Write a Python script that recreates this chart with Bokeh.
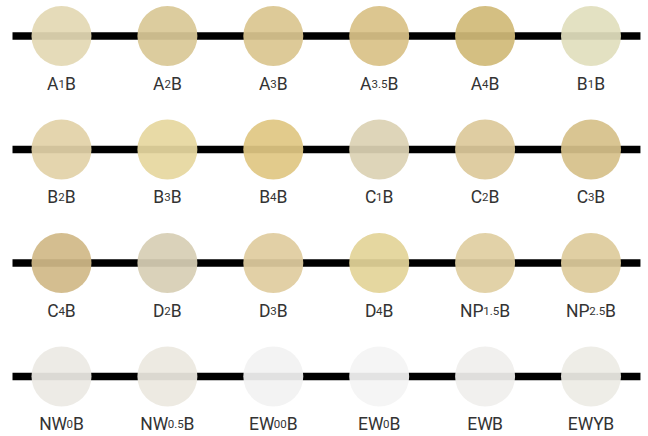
from bokeh.plotting import figure
from bokeh.models import Range1d, ColumnDataSource
from bokeh.core.properties import value
from bokeh.embed import file_html
from bokeh.resources import INLINE

# ---- data ----
rows = [0, 0, 0, 0, 0, 0, 1, 1, 1, 1, 1, 1, 2, 2, 2, 2, 2, 2, 3, 3, 3, 3, 3, 3]
cols = [0, 1, 2, 3, 4, 5] * 4
prefix = ["A", "A", "A", "A", "A", "B",
          "B", "B", "B", "C", "C", "C",
          "C", "D", "D", "D", "NP", "NP",
          "NW", "NW", "EW", "EW", "EW", "EWY"]
subs = ["1", "2", "3", "3.5", "4", "1",
        "2", "3", "4", "1", "2", "3",
        "4", "2", "3", "4", "1.5", "2.5",
        "0", "0.5", "00", "0", "", ""]
suffix = ["B"] * 24
# observed shade colours (as seen over white)
shades = ["#E5DBB9", "#DCCC9E", "#DDCA98", "#DCC690", "#D4BF82", "#E3E1C2",
          "#E4D5AE", "#E8DAA6", "#E2CB8C", "#DED5B9", "#DFCDA2", "#D9C592",
          "#D4BE90", "#DAD2BA", "#E2D0A6", "#E5D7A0", "#E2D2A8", "#E0CFA3",
          "#EDEBE6", "#EDEAE2", "#F3F3F3", "#F5F5F5", "#F1F0EE", "#EEEDE7"]

ALPHA = 0.93


def raw(hexc):
    v = [int(hexc[i:i + 2], 16) for i in (1, 3, 5)]
    r = [max(0, min(255, round((c - (1 - ALPHA) * 255) / ALPHA))) for c in v]
    return "#%02x%02x%02x" % tuple(r)


fills = [raw(c) for c in shades]

FONT = "Roboto"
MAIN = 17.5
SUB = 11.5
W = {"A": 0.652, "B": 0.623, "C": 0.636, "D": 0.641, "E": 0.556, "N": 0.697,
     "P": 0.630, "W": 0.866, "Y": 0.600, ".": 0.257}


def width(s, size):
    return sum(W.get(ch, 0.562) for ch in s) * size


pre_off, sub_off, suf_off = [], [], []
for a, b, c in zip(prefix, subs, suffix):
    wa, wb, wc = width(a, MAIN), width(b, SUB), width(c, MAIN)
    tot = wa + wb + wc
    start = -tot / 2
    pre_off.append(start)
    sub_off.append(start + wa)
    suf_off.append(start + wa + wb)

ys = [-r for r in rows]
src = ColumnDataSource(dict(x=cols, y=ys, fill=fills, pre=prefix, sub=subs, suf=suffix,
                            po=pre_off, so=sub_off, fo=suf_off))

p = figure(width=648, height=436, output_backend="svg", toolbar_location=None,
           x_range=Range1d(-0.576, 5.543), y_range=Range1d(-3.5286, 0.3128),
           min_border=0)
p.axis.visible = False
p.grid.visible = False
p.outline_line_color = None
p.background_fill_color = "white"
p.border_fill_color = "white"

row_ids = [0, 1, 2, 3]
p.segment(x0=-0.4627, x1=5.467, y0=[-r for r in row_ids], y1=[-r for r in row_ids],
          line_color="black", line_width=7.5)

p.scatter(x="x", y="y", size=60, marker="circle", fill_color="fill", fill_alpha=ALPHA,
          line_color=None, source=src)

common = dict(text_font=value(FONT), text_color="#333333", text_baseline="alphabetic",
              text_align="left", y_offset=47.5, source=src)
p.text(x="x", y="y", text="pre", x_offset="po", text_font_size="%spx" % MAIN, **common)
p.text(x="x", y="y", text="sub", x_offset="so", text_font_size="%spx" % SUB, **common)
p.text(x="x", y="y", text="suf", x_offset="fo", text_font_size="%spx" % MAIN, **common)

open("out.html", "w").write(file_html(p, INLINE))
